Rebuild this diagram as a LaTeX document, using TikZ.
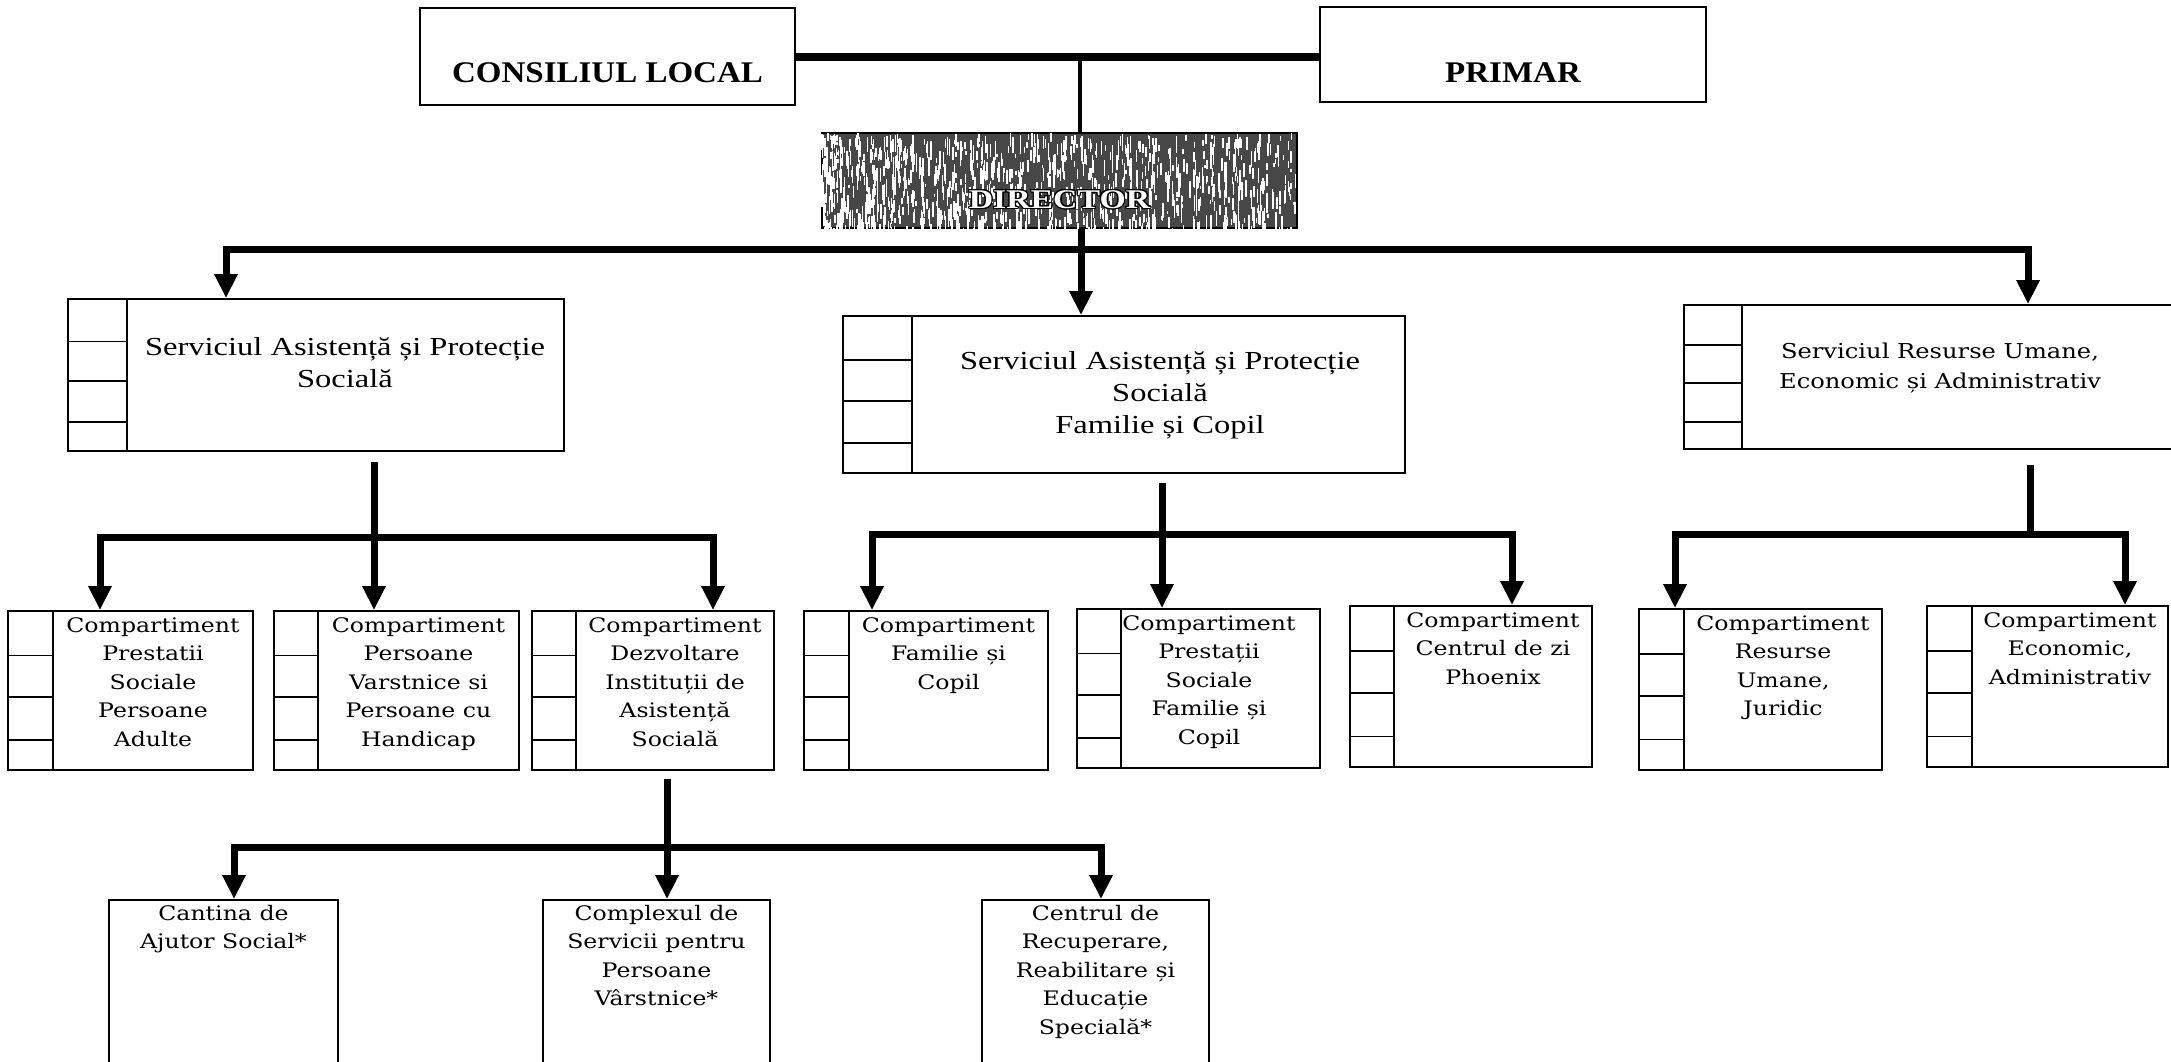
\documentclass[tikz,border=0pt]{standalone}
\usepackage{fontspec}
\usepackage[copies]{contour}
\setmainfont{Liberation Serif}
\newfontfamily\titlefont{Liberation Serif}[FakeStretch=1.1]
\newfontfamily\servfont{Liberation Serif}[FakeStretch=1.25]
\newfontfamily\compfont{DejaVu Serif}[FakeStretch=1.18]
\usetikzlibrary{arrows.meta,calc}
\contourlength{1.2pt}
\begin{document}
\begin{tikzpicture}[
    x=1pt, y=-1pt,
    box/.style={draw, line width=1.8pt, rectangle, inner sep=0pt},
    cells/.style={box, path picture={
      \draw[line width=1.8pt] ([xshift=#1]path picture bounding box.north west)
        -- ([xshift=#1]path picture bounding box.south west);
      \foreach \f in {0.28,0.54,0.81}
        \draw[line width=1.8pt] ($(path picture bounding box.north west)!\f!(path picture bounding box.south west)$) -- ++(#1,0);
    }},
    title/.style={font=\titlefont\bfseries\fontsize{30}{34}\selectfont, inner sep=0pt},
    serv/.style={font=\servfont\fontsize{26}{32}\selectfont, align=center, inner sep=0pt},
    comp/.style={font=\compfont\fontsize{20}{28.5}\selectfont, align=center, inner sep=0pt, anchor=north},
    link/.style={line width=7pt},
    arrow/.style={link, -{Triangle[width=22pt,length=24pt]}},
  ]
  \useasboundingbox (0,0) rectangle (2171,1061);
  \fill[white] (0,0) rectangle (2171,1061);
  \clip (0,0) rectangle (2171,1061);

  \node[box, minimum width=375pt, minimum height=97pt] (consiliul) at (607.5,56.5) {};
  \node[title] (consiliult) at (607.5,73) {CONSILIUL LOCAL};
  \node[box, minimum width=386pt, minimum height=95pt] (primar) at (1513,54.5) {};
  \node[title] (primart) at (1513,73) {PRIMAR};

  \node[box, fill=black!72, minimum width=475pt, minimum height=95pt] (director) at (1059.5,180.5) {};
  \begin{scope}
    \clip (director.north west) rectangle (director.south east);
    \pgfmathsetseed{31}
    \foreach \i in {1,...,1100}{
      \pgfmathsetmacro\nx{822+475*pow(rnd,1.35)}
      \pgfmathsetmacro\ny{133+rnd*95}
      \pgfmathsetmacro\nl{3+rnd*16}
      \draw[white, line width=1.5pt] (\nx,\ny) -- ++(0,\nl);
    }
  \end{scope}
  \node[font=\servfont\bfseries\fontsize{27}{30}\selectfont, inner sep=0pt] (directort) at (1059.5,200) {\contour{black}{\textcolor{white}{DIRECTOR}}};

  \node[cells=59, minimum width=496pt, minimum height=152pt] (s1) at (316,375) {};
  \node[serv] (s1t) at (345,363) {Serviciul Asistență și Protecție\\Socială};
  \node[cells=69, minimum width=562pt, minimum height=157pt] (s2) at (1124,394.5) {};
  \node[serv] (s2t) at (1160,395) {Serviciul Asistență și Protecție\\Socială\\Familie și Copil};
  \node[cells=58, minimum width=516pt, minimum height=144pt] (s3) at (1942,377) {};
  \node[comp, anchor=center, font=\compfont\fontsize{20.5}{30.5}\selectfont] (s3t) at (1940,368) {Serviciul Resurse Umane,\\Economic și Administrativ};

  \node[cells=45, minimum width=245pt, minimum height=159pt] (c1) at (130.5,690.5) {};
  \node[comp] (c1t) at (153,617) {Compartiment\\Prestatii\\Sociale\\Persoane\\Adulte};
  \node[cells=44, minimum width=245pt, minimum height=159pt] (c2) at (396.5,690.5) {};
  \node[comp] (c2t) at (418.5,617) {Compartiment\\Persoane\\Varstnice si\\Persoane cu\\Handicap};
  \node[cells=44, minimum width=242pt, minimum height=159pt] (c3) at (653,690.5) {};
  \node[comp] (c3t) at (675,617) {Compartiment\\Dezvoltare\\Instituții de\\Asistență\\Socială};
  \node[cells=45, minimum width=244pt, minimum height=159pt] (c4) at (926,690.5) {};
  \node[comp] (c4t) at (948.5,617) {Compartiment\\Familie și\\Copil};
  \node[cells=44, minimum width=243pt, minimum height=159pt] (c5) at (1198.5,688.5) {};
  \node[comp] (c5t) at (1209,615) {Compartiment\\Prestații\\Sociale\\Familie și\\Copil};
  \node[cells=44, minimum width=242pt, minimum height=161pt] (c6) at (1471,686.5) {};
  \node[comp] (c6t) at (1493,612) {Compartiment\\Centrul de zi\\Phoenix};
  \node[cells=45, minimum width=243pt, minimum height=161pt] (c7) at (1760.5,689.5) {};
  \node[comp] (c7t) at (1783,615) {Compartiment\\Resurse\\Umane,\\Juridic};
  \node[cells=45, minimum width=241pt, minimum height=161pt] (c8) at (2047.5,686.5) {};
  \node[comp] (c8t) at (2070,612) {Compartiment\\Economic,\\Administrativ};

  \node[box, minimum width=229pt, minimum height=175pt] (b1) at (223.5,987.5) {};
  \node[comp] (b1t) at (223.5,905) {Cantina de\\Ajutor Social*};
  \node[box, minimum width=227pt, minimum height=175pt] (b2) at (656.5,987.5) {};
  \node[comp] (b2t) at (656.5,905) {Complexul de\\Servicii pentru\\Persoane\\Vârstnice*};
  \node[box, minimum width=227pt, minimum height=175pt] (b3) at (1095.5,987.5) {};
  \node[comp] (b3t) at (1095.5,905) {Centrul de\\Recuperare,\\Reabilitare și\\Educație\\Specială*};

  \draw[line width=8pt] (consiliul.east) -- (consiliul.east -| primar.west);
  \coordinate (d0) at ([xshift=20.5pt]director.north);
  \draw[line width=4.5pt] (d0) -- (d0 |- consiliul.east);

  \coordinate (d1) at ([xshift=21.5pt]director.south);
  \draw[link] (d1) -- ++(0,21) coordinate (bus1);
  \draw[arrow] (bus1) -| ([xshift=-90pt]s1.north);
  \draw[arrow] (bus1) -- (bus1 |- s2.north);
  \draw[arrow] (bus1) -| ([xshift=86pt]s3.north);

  \coordinate (s1b) at ([xshift=58pt,yshift=-10pt]s1.south);
  \draw[link] (s1b) -- ++(0,76) coordinate (bus2);
  \draw[arrow] (bus2) -| ([xshift=-30.5pt]c1.north);
  \draw[arrow] (bus2) -- (bus2 |- c2.north);
  \draw[arrow] (bus2) -| ([xshift=60pt]c3.north);

  \coordinate (s2b) at ([xshift=38pt,yshift=-9pt]s2.south);
  \draw[link] (s2b) -- ++(0,52) coordinate (bus3);
  \draw[arrow] (bus3) -| ([xshift=-54pt]c4.north);
  \draw[arrow] (bus3) -- (bus3 |- c5.north);
  \draw[arrow] (bus3) -| ([xshift=41pt]c6.north);

  \coordinate (s3b) at ([xshift=88pt,yshift=-15pt]s3.south);
  \draw[link] (s3b) -- ++(0,70) coordinate (bus4);
  \draw[arrow] (bus4) -| ([xshift=-85.5pt]c7.north);
  \draw[arrow] (bus4) -| ([xshift=77.5pt]c8.north);

  \coordinate (c3b) at ([xshift=14pt,yshift=-8pt]c3.south);
  \draw[link] (c3b) -- ++(0,69) coordinate (bus5);
  \draw[arrow] (bus5) -| ([xshift=10.5pt]b1.north);
  \draw[arrow] (bus5) -- (bus5 |- b2.north);
  \draw[arrow] (bus5) -| ([xshift=5.5pt]b3.north);
\end{tikzpicture}
\end{document}
